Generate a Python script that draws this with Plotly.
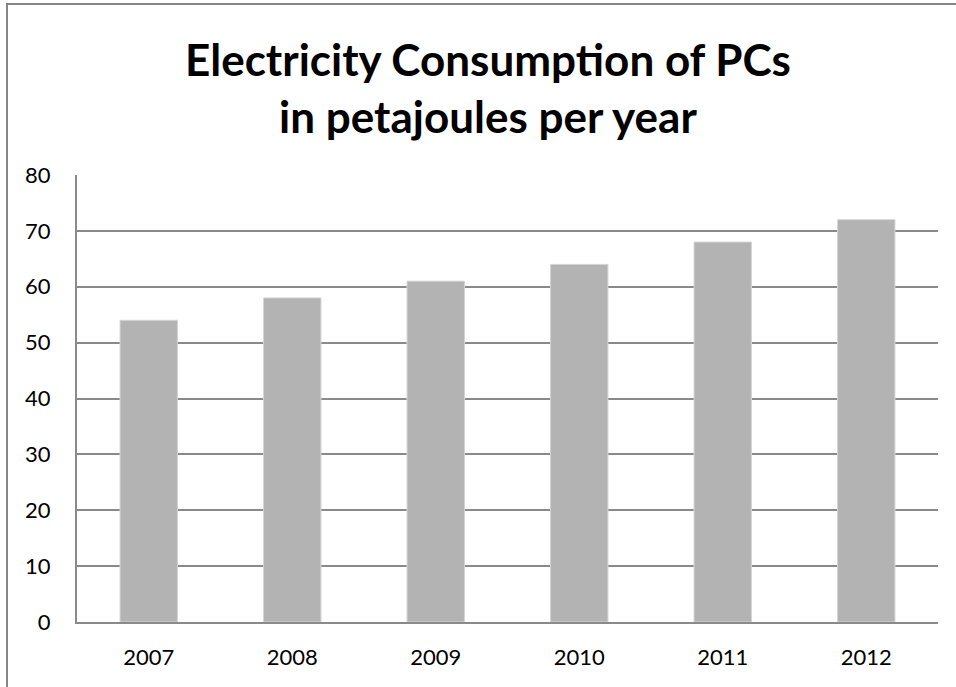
import plotly.graph_objects as go

years = ["2007", "2008", "2009", "2010", "2011", "2012"]
consumption = [54, 58, 61, 64, 68, 72]
y_ticks = [0, 10, 20, 30, 40, 50, 60, 70, 80]

W, H = 956, 687
L, R, T, B = 77, 18, 175, 65
pw, ph = W - L - R, H - T - B

def px(x):
    return (x - L) / pw

def py(y):
    return (H - B - y) / ph

FONT = "Lato, Carlito, Calibri, sans-serif"

fig = go.Figure(go.Bar(
    x=years, y=consumption,
    marker=dict(color="#B3B3B3", line=dict(color="#D4D4D4", width=1)),
))

fig.update_layout(
    width=W, height=H,
    margin=dict(l=L, r=R, t=T, b=B),
    paper_bgcolor="white", plot_bgcolor="white",
    bargap=0.6,
    showlegend=False,
    font=dict(family=FONT, color="black", size=22),
    xaxis=dict(showgrid=False, showline=True, linecolor="#8A8A8A", linewidth=2,
               ticks="", ticklabelstandoff=15, tickfont=dict(size=22)),
    yaxis=dict(range=[0, 80], tickvals=y_ticks, showgrid=True, gridcolor="#8A8A8A",
               gridwidth=2, showline=True, linecolor="#8A8A8A", linewidth=2,
               zeroline=False, ticks="", ticklabelstandoff=20, tickfont=dict(size=22)),
    annotations=[dict(
        text="<b>Electricity Consumption of PCs<br>in petajoules per year</b>",
        xref="paper", yref="paper", x=px(488), y=py(88), xanchor="center", yanchor="middle",
        showarrow=False, font=dict(size=44, family=FONT),
    )],
    shapes=[dict(type="rect", xref="paper", yref="paper",
                 x0=px(7), x1=px(965), y0=py(695), y1=py(4),
                 line=dict(color="#868686", width=2), layer="above")],
)

fig.write_html("out.html")
